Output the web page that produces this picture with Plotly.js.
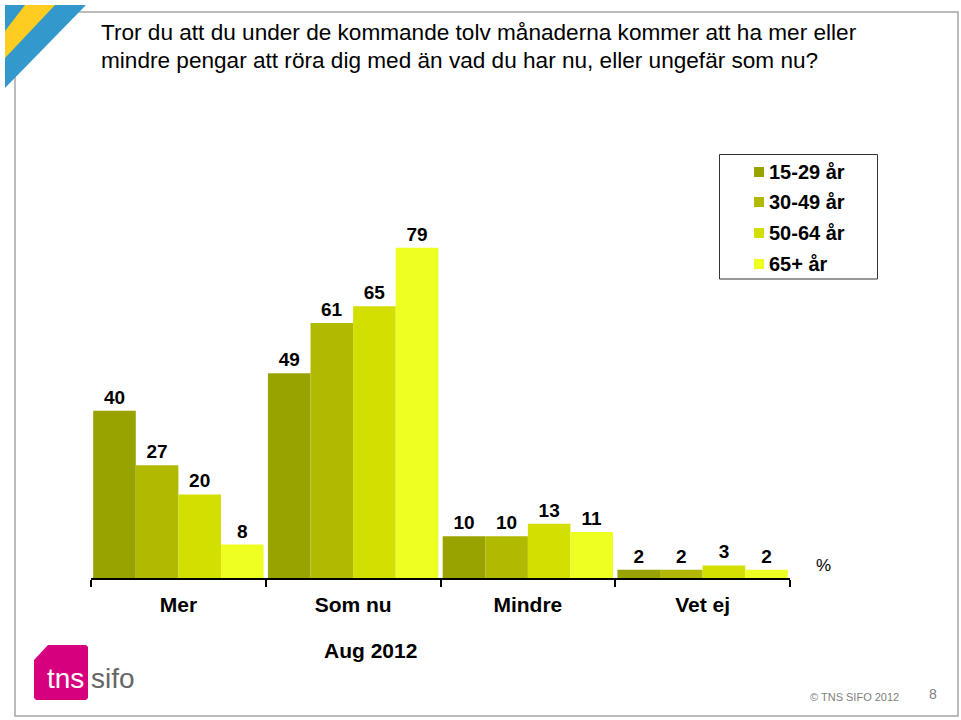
<!DOCTYPE html>
<html>
<head>
<meta charset="utf-8">
<script src="https://cdn.plot.ly/plotly-3.0.1.min.js"></script>
<style>html,body{margin:0;padding:0;background:#fff;}#chart{width:961px;height:720px;}</style>
</head>
<body>
<div id="chart"></div>
<script>
// ---- Data ----
const categories = ["Mer", "Som nu", "Mindre", "Vet ej"];
const seriesNames = ["15-29 år", "30-49 år", "50-64 år", "65+ år"];
const age15_29 = [40, 49, 10, 2];
const age30_49 = [27, 61, 10, 2];
const age50_64 = [20, 65, 13, 3];
const age65plus = [8, 79, 11, 2];
const seriesValues = [age15_29, age30_49, age50_64, age65plus];
const seriesColors = ["#99a300", "#b1ba00", "#d3df00", "#eeff22"];
const titleLines = [
  "Tror du att du under de kommande tolv månaderna kommer att ha mer eller",
  "mindre pengar att röra dig med än vad du har nu, eller ungefär som nu?"
];
const periodLabel = "Aug 2012";
const unitLabel = "%";
const footerText = "© TNS SIFO 2012";
const pageNumber = "8";

// ---- Layout geometry ----
const W = 961, H = 720, ML = 91, MR = 171, MT = 100, MB = 142;
const PW = W - ML - MR, PH = H - MT - MB;
const fx = X => (X - ML) / PW;
const fy = Y => (H - MB - Y) / PH;
const FONT = "Liberation Sans, Arial, sans-serif";

const traces = seriesNames.map((name, i) => ({
  type: "bar",
  name: name,
  x: categories,
  y: seriesValues[i],
  marker: { color: seriesColors[i], line: { width: 0 } },
  text: seriesValues[i].map(String),
  textposition: "outside",
  textfont: { family: FONT, size: 19, color: "#000", weight: "bold" },
  cliponaxis: false,
  hoverinfo: "x+y+name"
}));

function pathPx(pts) {
  return "M" + pts.map(p => fx(p[0]) + "," + fy(p[1])).join(" L") + " Z";
}

const shapes = [
  // page frame
  { type: "rect", xref: "paper", yref: "paper", x0: fx(15), x1: fx(958), y0: fy(716), y1: fy(12),
    line: { color: "#a6a6a6", width: 1.5 }, fillcolor: "rgba(0,0,0,0)", layer: "below" },
  // corner decoration
  { type: "path", xref: "paper", yref: "paper", path: pathPx([[5,5],[86,5],[5,88]]),
    fillcolor: "#3399cc", line: { width: 0 } },
  { type: "path", xref: "paper", yref: "paper", path: pathPx([[25,5],[55,5],[5,58],[5,31]]),
    fillcolor: "#ffcc22", line: { width: 0 } },
  // legend box
  { type: "rect", xref: "paper", yref: "paper", x0: fx(719.5), x1: fx(877.5), y0: fy(279), y1: fy(154.5),
    line: { color: "#333", width: 1 }, fillcolor: "#fff" },
  // logo
  { type: "path", xref: "paper", yref: "paper",
    path: pathPx([[48,645],[86,645],[88,647],[88,698],[86,700],[36,700],[34,698],[34,660]]),
    fillcolor: "#d6007e", line: { width: 0 } }
];

const annotations = [];
titleLines.forEach((t, i) => annotations.push({
  xref: "paper", yref: "paper", x: fx(99), y: fy(33 + i * 27), xanchor: "left", yanchor: "middle",
  text: t, showarrow: false, font: { family: FONT, size: 22.6, color: "#000" }
}));
// manual legend built from series names / colors
const legendY = [172, 202, 233, 264];
seriesNames.forEach((n, i) => {
  shapes.push({ type: "rect", xref: "paper", yref: "paper",
    x0: fx(754), x1: fx(764), y0: fy(legendY[i] + 5), y1: fy(legendY[i] - 5),
    fillcolor: seriesColors[i], line: { width: 0 } });
  annotations.push({ xref: "paper", yref: "paper", x: fx(767), y: fy(legendY[i]), xanchor: "left", yanchor: "middle",
    text: n, showarrow: false, font: { family: FONT, size: 20, color: "#000", weight: "bold" } });
});
annotations.push({ xref: "paper", yref: "paper", x: fx(370), y: fy(650), xanchor: "center", yanchor: "middle",
  text: periodLabel, showarrow: false, font: { family: FONT, size: 21, color: "#000", weight: "bold" } });
annotations.push({ xref: "paper", yref: "paper", x: fx(823), y: fy(565), xanchor: "center", yanchor: "middle",
  text: unitLabel, showarrow: false, font: { family: FONT, size: 17, color: "#000" } });
annotations.push({ xref: "paper", yref: "paper", x: fx(901), y: fy(697), xanchor: "right", yanchor: "middle",
  text: footerText, showarrow: false, font: { family: FONT, size: 11, color: "#808080" } });
annotations.push({ xref: "paper", yref: "paper", x: fx(933), y: fy(694), xanchor: "center", yanchor: "middle",
  text: pageNumber, showarrow: false, font: { family: FONT, size: 14, color: "#808080" } });
annotations.push({ xref: "paper", yref: "paper", x: fx(45), y: fy(678), xanchor: "left", yanchor: "middle",
  text: "tns", showarrow: false, font: { family: FONT, size: 28, color: "#fff" } });
annotations.push({ xref: "paper", yref: "paper", x: fx(89), y: fy(678), xanchor: "left", yanchor: "middle",
  text: "sifo", showarrow: false, font: { family: FONT, size: 28, color: "#666" } });

const layout = {
  width: W, height: H,
  margin: { l: ML, r: MR, t: MT, b: MB, pad: 0 },
  paper_bgcolor: "#fff", plot_bgcolor: "#fff",
  barmode: "group", bargap: 0.025, bargroupgap: 0,
  showlegend: false,
  font: { family: FONT },
  xaxis: {
    type: "category", showline: true, linecolor: "#000", linewidth: 2,
    ticks: "outside", tickson: "boundaries", ticklen: 7, tickwidth: 2, tickcolor: "#000",
    ticklabelstandoff: 7,
    tickfont: { family: FONT, size: 21, color: "#000", weight: "bold" },
    showgrid: false, zeroline: false, fixedrange: true
  },
  yaxis: { range: [0, PH / 4.18], visible: false, showgrid: false, zeroline: false, fixedrange: true },
  shapes: shapes,
  annotations: annotations
};

Plotly.newPlot("chart", traces, layout, { displayModeBar: false, staticPlot: true });
</script>
</body>
</html>
